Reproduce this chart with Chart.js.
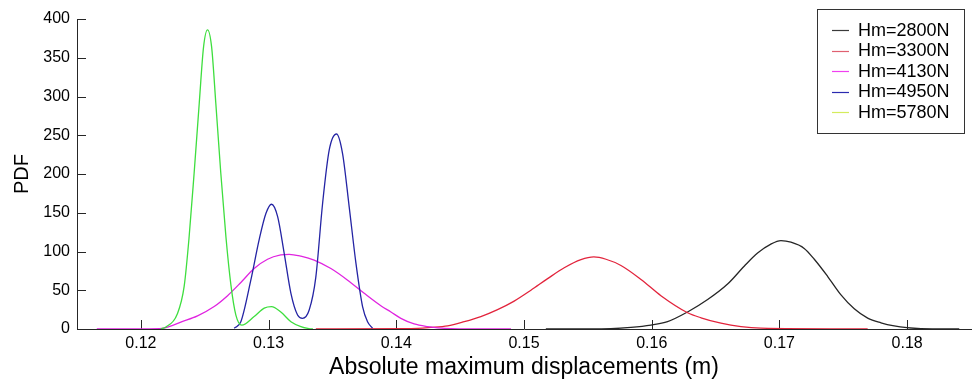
<!DOCTYPE html>
<html>
<head>
<meta charset="utf-8">
<title>PDF of absolute maximum displacements</title>
<script src="https://cdn.jsdelivr.net/npm/chart.js@4.4.1/dist/chart.umd.min.js"></script>
<style>
  html, body { margin: 0; padding: 0; background: #fff; }
  #wrap { width: 972px; height: 381px; }
</style>
</head>
<body>
<div id="wrap"><canvas id="pdf" width="972" height="381"></canvas></div>
<script>
// axis ticks
const xTicks = [0.12, 0.13, 0.14, 0.15, 0.16, 0.17, 0.18];
const yTicks = [0, 50, 100, 150, 200, 250, 300, 350, 400];

const labels = ['Hm=2800N', 'Hm=3300N', 'Hm=4130N', 'Hm=4950N', 'Hm=5780N'];

// Hm = 2800 N
const x2800 = [0.15171, 0.15680, 0.15837, 0.15994, 0.16124, 0.16281, 0.16438, 0.16594, 0.16724, 0.16829,
  0.16933, 0.17012, 0.17090, 0.17194, 0.17273, 0.17377, 0.17482, 0.17586, 0.17691, 0.17795,
  0.17899, 0.17999, 0.18108, 0.18408];
const pdf2800 = [0, 0.5, 2, 5, 9.5, 22, 38, 58, 81, 98,
  109.5, 114, 112, 104, 90, 68, 44, 26, 14, 8,
  4, 1.7, 0.5, 0];

// Hm = 3300 N
const x3300 = [0.13370, 0.14114, 0.14271, 0.14402, 0.14532, 0.14662, 0.14793, 0.14923, 0.15054, 0.15185,
  0.15315, 0.15446, 0.15547, 0.15642, 0.15759, 0.15916, 0.16072, 0.16281, 0.16386, 0.16542,
  0.16699, 0.16855, 0.17691];
const pdf3300 = [0, 0.5, 2, 4, 9.4, 16, 25, 36, 50, 65,
  79, 89.5, 93, 90, 82, 64, 43, 21, 14.5, 7.5,
  3, 1, 0];

// Hm = 4130 N
const x4130 = [0.11655, 0.12150, 0.12220, 0.12313, 0.12444, 0.12574, 0.12679, 0.12783, 0.12887, 0.12992,
  0.13096, 0.13161, 0.13253, 0.13357, 0.13488, 0.13619, 0.13749, 0.13879, 0.13958, 0.14036,
  0.14140, 0.14245, 0.14323, 0.14428, 0.14898];
const pdf4130 = [0, 0.5, 3, 9, 17, 29, 43, 60, 78, 90,
  95.5, 96.4, 94, 89, 78, 63, 46, 30, 22, 13.8,
  6.5, 3, 1.5, 0.5, 0];

// Hm = 4950 N
const x4950 = [0.12731, 0.12783, 0.12861, 0.12926, 0.12979, 0.13023, 0.13071, 0.13122, 0.13175, 0.13227,
  0.13266, 0.13318, 0.13370, 0.13423, 0.13475, 0.13532, 0.13579, 0.13631, 0.13684, 0.13736,
  0.13775, 0.13814];
const pdf4950 = [1, 9.4, 63, 115, 149, 161, 145, 98, 46, 18,
  13.8, 24.5, 67, 162, 231, 251.6, 226.7, 158, 85, 29,
  9.4, 1];

// Hm = 5780 N
const x5780 = [0.12157, 0.12196, 0.12287, 0.12339, 0.12378, 0.12417, 0.12457, 0.12491, 0.12522, 0.12554,
  0.12587, 0.12626, 0.12666, 0.12705, 0.12744, 0.12790, 0.12887, 0.12966, 0.13023, 0.13096,
  0.13175, 0.13253, 0.13316, 0.13347];
const pdf5780 = [0, 2.6, 20, 55, 119, 201, 291, 364, 386, 364,
  291, 201, 119, 57, 18, 5, 16, 27, 29, 22,
  9.4, 3, 0.5, 0];

const seriesX = [x2800, x3300, x4130, x4950, x5780];
const seriesY = [pdf2800, pdf3300, pdf4130, pdf4950, pdf5780];
const colors = ['#262626', '#e2243c', '#e024e0', '#2424a4', '#3ede3e'];
const swatches = ['#3a3a3a', '#e06070', '#f040f0', '#2a2ab0', '#d4ec5c'];

const datasets = labels.map((label, i) => ({
  label,
  data: seriesX[i].map((x, k) => ({ x, y: seriesY[i][k] })),
  borderColor: colors[i],
  borderWidth: 1.3,
  pointRadius: 0,
  fill: false,
  cubicInterpolationMode: 'monotone',
  order: labels.length - i   // later curves on top
}));

// tick marks pointing into the plot area
const innerTicks = {
  id: 'innerTicks',
  beforeDatasetsDraw(chart) {
    const { ctx, chartArea, scales: { x, y } } = chart;
    const len = 9;
    ctx.save();
    ctx.strokeStyle = '#262626';
    ctx.lineWidth = 1;
    ctx.beginPath();
    xTicks.forEach(v => {
      const px = Math.round(x.getPixelForValue(v)) + 0.5;
      ctx.moveTo(px, chartArea.bottom);
      ctx.lineTo(px, chartArea.bottom - len);
    });
    yTicks.forEach(v => {
      const py = Math.round(y.getPixelForValue(v)) + 0.5;
      ctx.moveTo(chartArea.left, py);
      ctx.lineTo(chartArea.left + len, py);
    });
    ctx.stroke();
    ctx.restore();
  }
};

// boxed legend in the top right corner
const boxLegend = {
  id: 'boxLegend',
  afterDraw(chart) {
    const ctx = chart.ctx;
    const bx = 817, by = 9, bw = 147, bh = 124;
    ctx.save();
    ctx.fillStyle = '#fff';
    ctx.fillRect(bx, by, bw, bh);
    ctx.strokeStyle = '#333';
    ctx.lineWidth = 1;
    ctx.strokeRect(bx + 0.5, by + 0.5, bw, bh);
    ctx.font = '18px "Liberation Sans", Arial, sans-serif';
    ctx.textBaseline = 'middle';
    ctx.fillStyle = '#000';
    chart.data.datasets.forEach((ds, i) => {
      const ly = by + 21 + i * 20.5;
      ctx.strokeStyle = swatches[i];
      ctx.lineWidth = 1.2;
      ctx.beginPath();
      ctx.moveTo(832, Math.round(ly) + 0.5);
      ctx.lineTo(849, Math.round(ly) + 0.5);
      ctx.stroke();
      ctx.fillText(ds.label, 858, ly + 1);
    });
    ctx.restore();
  }
};

Chart.defaults.font.family = '"Liberation Sans", Arial, sans-serif';
Chart.defaults.color = '#000';

new Chart(document.getElementById('pdf'), {
  type: 'line',
  data: { datasets },
  options: {
    responsive: false,
    animation: false,
    events: [],
    layout: { padding: { top: 19, right: 1, bottom: 0, left: 0 } },
    plugins: {
      legend: { display: false },
      tooltip: { enabled: false }
    },
    scales: {
      x: {
        type: 'linear',
        min: 0.115,
        max: 0.185,
        afterBuildTicks(scale) { scale.ticks = xTicks.map(v => ({ value: v })); },
        afterFit(scale) { scale.height = 52; },
        grid: { display: false, drawTicks: false },
        border: { color: '#262626', width: 1 },
        ticks: {
          padding: 5,
          maxRotation: 0,
          font: { size: 16 },
          callback: v => v.toFixed(2)
        },
        title: {
          display: true,
          text: 'Absolute maximum displacements (m)',
          font: { size: 23 },
          padding: { top: 0, bottom: 0 }
        }
      },
      y: {
        min: 0,
        max: 400,
        afterBuildTicks(scale) { scale.ticks = yTicks.map(v => ({ value: v })); },
        afterFit(scale) { scale.width = 77; },
        grid: { display: false, drawTicks: false },
        border: { color: '#262626', width: 1 },
        ticks: {
          padding: 7,
          font: { size: 16 }
        },
        title: {
          display: true,
          text: 'PDF',
          font: { size: 20 },
          padding: { top: 10, bottom: 0 }
        }
      }
    }
  },
  plugins: [innerTicks, boxLegend]
});
</script>
</body>
</html>
